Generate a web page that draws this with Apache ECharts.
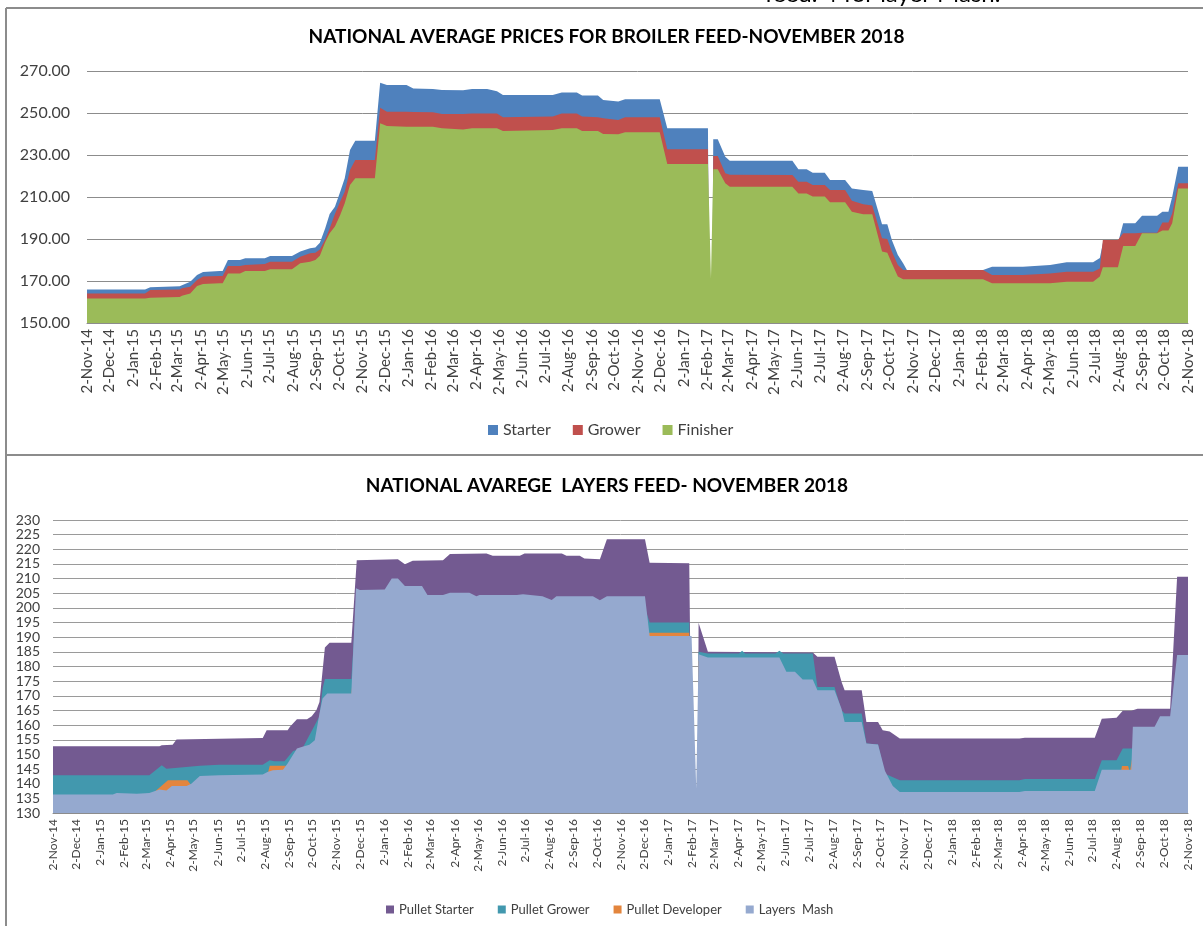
<!DOCTYPE html>
<html><head><meta charset="utf-8">
<script src="https://cdn.jsdelivr.net/npm/echarts@6/dist/echarts.min.js"></script>
<style>html,body{margin:0;padding:0;background:#fff}#c{width:1203px;height:926px}</style>
</head><body><div id="c"></div>
<script>
const xTickLabels = ['2-Nov-14','2-Dec-14','2-Jan-15','2-Feb-15','2-Mar-15','2-Apr-15','2-May-15','2-Jun-15','2-Jul-15','2-Aug-15','2-Sep-15','2-Oct-15',
'2-Nov-15','2-Dec-15','2-Jan-16','2-Feb-16','2-Mar-16','2-Apr-16','2-May-16','2-Jun-16','2-Jul-16','2-Aug-16','2-Sep-16','2-Oct-16',
'2-Nov-16','2-Dec-16','2-Jan-17','2-Feb-17','2-Mar-17','2-Apr-17','2-May-17','2-Jun-17','2-Jul-17','2-Aug-17','2-Sep-17','2-Oct-17',
'2-Nov-17','2-Dec-17','2-Jan-18','2-Feb-18','2-Mar-18','2-Apr-18','2-May-18','2-Jun-18','2-Jul-18','2-Aug-18','2-Sep-18','2-Oct-18','2-Nov-18'];

const broilerDates = ['2014-11-02','2015-01-18','2015-01-25','2015-03-05','2015-03-08','2015-03-19','2015-03-28','2015-04-05','2015-04-27','2015-05-01',
'2015-05-08','2015-05-24','2015-05-31','2015-06-26','2015-07-03','2015-08-01','2015-08-12','2015-08-25','2015-09-01','2015-09-07',
'2015-09-14','2015-09-20','2015-09-27','2015-10-04','2015-10-10','2015-10-17','2015-10-24','2015-11-19','2015-11-26','2015-12-05',
'2015-12-31','2016-01-09','2016-02-04','2016-02-16','2016-03-15','2016-03-27','2016-04-16','2016-04-29','2016-05-07','2016-07-12',
'2016-07-24','2016-08-13','2016-08-20','2016-09-10','2016-09-17','2016-10-07','2016-10-16','2016-12-01','2016-12-11','2017-02-03',
'2017-02-07','2017-02-10','2017-02-16','2017-02-26','2017-03-04','2017-05-26','2017-06-03','2017-06-14','2017-06-22','2017-07-08',
'2017-07-15','2017-08-04','2017-08-13','2017-08-28','2017-09-09','2017-09-22','2017-09-29','2017-10-05','2017-10-13','2017-10-20',
'2017-10-25','2018-02-03','2018-02-15','2018-03-28','2018-05-03','2018-05-25','2018-06-29','2018-07-08','2018-07-12','2018-08-01',
'2018-08-08','2018-08-24','2018-09-02','2018-09-22','2018-09-29','2018-10-07','2018-10-12','2018-10-20','2018-11-02'];

const starter = [166,166,167,167.5,168,169.7,172.9,174.3,174.8,174.8,
180,180,180.8,180.8,181.9,181.9,184,185.6,186,188.2,
195,201.9,205.4,212.5,218.9,232.4,236.8,236.8,264.4,263.3,
263.3,261.7,261.4,261,260.8,261.4,261.4,260.3,258.6,258.6,
259.8,259.8,258.3,258.3,256.2,255.5,256.5,256.5,242.7,242.7,
0,237.5,237.5,229.2,227.3,227.3,223.2,223.2,221.6,221.6,
218.1,218.1,214.1,213.3,212.9,197,197,189.5,182.4,178.4,
175.2,175.2,176.8,176.8,177.6,178.9,178.9,181,188,188,
197.5,197.5,201.1,201.1,203,203,210,224.4,224.4];

const grower = [164.1,164.1,165.7,166,166.5,167.3,170.5,172.1,172.4,172.4,
177.1,177.1,177.6,178.1,179.2,179.2,181.6,183.2,183.5,185,
189.8,195,201.9,207.8,212.5,222.9,227.6,227.6,252.5,250.6,
250.6,250.5,250.3,249.5,249.5,249.8,249.8,249.8,248,248.3,
249.8,249.8,248.3,248,247.5,246.7,248,248,232.7,232.7,
0,229.5,229.5,221.3,220.6,220.5,217.3,217.3,215.7,215.7,
213.3,213.3,208.2,206.5,206,190.3,190,184,177.6,175.2,
175.2,175.2,172.9,172.9,173.6,174.4,174.4,176,189.5,189.5,
192.7,192.7,193,193,197.9,197.9,202.2,216.5,216.5];

const finisher = [161.7,161.7,162,162.4,163,164,167.6,168.6,168.9,168.9,
173.6,173.6,174.8,174.8,175.6,175.6,178.4,179.2,180,182,
188.4,192.7,196,201.4,207,215.7,218.9,218.9,245.1,243.8,
243.5,243.5,243.5,242.7,242.2,242.7,242.7,242.7,241.4,241.9,
242.7,242.7,241.4,241.4,240,239.9,240.8,240.8,225.7,225.7,
171.3,223.2,223.2,216.5,214.9,214.9,211.7,211.7,210.2,210.2,
207.5,207.5,203,201.8,201.8,184,183.5,178.4,172.1,170.8,
170.8,170.8,168.9,168.9,168.9,169.7,169.7,172.1,176.5,176.5,
186.7,186.7,192.7,192.7,194,194,197.5,214.1,214.1];

const pulletStarter = [['2014-11-02',152.8],['2015-03-19',152.8],['2015-03-22',153.1],['2015-04-05',153.3],['2015-04-10',155.1],['2015-07-30',155.6],
['2015-08-04',158.2],['2015-08-31',158.2],['2015-09-03',159.4],['2015-09-12',162],['2015-09-25',162],['2015-10-01',163],['2015-10-07',165.1],
['2015-10-11',167.9],['2015-10-18',186.5],['2015-10-24',188.1],['2015-11-21',188.1],['2015-11-28',216.3],['2016-01-20',216.6],['2016-01-29',214.9],
['2016-02-08',216.1],['2016-03-18',216.3],['2016-03-27',218.4],['2016-05-13',218.6],['2016-05-21',217.8],['2016-06-25',217.8],['2016-07-01',218.6],
['2016-08-18',218.6],['2016-08-24',217.8],['2016-09-10',217.8],['2016-09-16',216.9],['2016-10-06',216.6],['2016-10-15',223.4],['2016-12-03',223.4],
['2016-12-09',215.4],['2017-01-29',215.2],['2017-02-07',0],['2017-02-10',194.9],['2017-02-22',185],['2017-07-07',184.8],['2017-07-13',183.3],
['2017-08-04',183.3],['2017-08-13',174.8],['2017-08-17',171.9],['2017-09-08',171.9],['2017-09-14',161.1],['2017-09-29',161.1],['2017-10-05',158.2],
['2017-10-14',157.8],['2017-10-27',155.4],['2018-03-30',155.4],['2018-04-06',155.7],['2018-07-05',155.7],['2018-07-14',162.2],['2018-08-02',162.5],
['2018-08-10',164.9],['2018-08-21',164.9],['2018-08-29',165.6],['2018-10-10',165.6],['2018-10-19',210.6],['2018-11-02',210.6]];

const pulletGrower = [['2014-11-02',142.9],['2015-03-06',142.9],['2015-03-22',146.3],['2015-03-28',145.1],['2015-04-08',145.4],['2015-05-10',146.1],
['2015-06-04',146.5],['2015-07-30',146.5],['2015-08-08',148],['2015-08-14',147.7],['2015-08-27',147.7],['2015-09-07',151.2],['2015-09-19',152],
['2015-10-11',163],['2015-10-15',172.5],['2015-10-18',175.7],['2015-11-21',175.7],['2015-11-27',200],['2016-12-03',200],['2016-12-09',195],
['2017-01-29',195],['2017-02-07',0],['2017-02-10',185],['2017-02-22',184.4],['2017-04-03',184.4],['2017-04-07',185.4],['2017-04-11',184.4],
['2017-05-20',184.4],['2017-05-25',185.4],['2017-05-30',184.4],['2017-07-07',184.4],['2017-07-13',173],['2017-08-04',173],['2017-08-13',165.1],
['2017-08-17',164],['2017-09-08',164],['2017-09-14',153.7],['2017-09-29',153.4],['2017-10-08',143.4],['2017-10-27',141.2],['2018-03-30',141.2],
['2018-04-06',141.6],['2018-07-05',141.6],['2018-07-14',148],['2018-08-02',148],['2018-08-10',152],['2018-11-02',152]];

const pulletDeveloper = [['2014-11-02',135],['2015-03-06',135.5],['2015-03-10',136.6],['2015-03-30',141.2],['2015-04-24',141.2],['2015-04-29',139.5],
['2015-05-10',140],['2015-07-30',142],['2015-08-05',143],['2015-08-08',146.1],['2015-08-27',146.1],['2015-08-31',146],['2015-09-12',148],
['2015-10-11',150],['2015-11-19',163],['2015-11-27',190],['2016-12-03',190],['2016-12-09',191.5],['2017-01-29',191.5],['2017-02-07',0],
['2017-02-10',182],['2017-05-25',182],['2017-06-03',177],['2017-06-24',174],['2017-07-13',170],['2017-08-13',160],['2017-09-14',150],
['2017-10-08',140],['2017-10-18',136],['2018-07-05',136],['2018-07-14',143],['2018-08-07',143],['2018-08-09',146],['2018-08-17',146],
['2018-08-19',144],['2018-08-23',150],['2018-11-02',150]];

const layersMash = [['2014-11-02',136.3],['2015-01-18',136.3],['2015-01-23',136.8],['2015-02-18',136.6],['2015-03-06',136.8],['2015-03-19',138],
['2015-03-28',137.7],['2015-04-04',139.2],['2015-04-23',139.2],['2015-04-29',140],['2015-05-10',142.6],['2015-06-04',142.9],['2015-07-30',143.1],
['2015-08-05',144],['2015-08-12',144.6],['2015-08-25',144.8],['2015-08-31',146.9],['2015-09-12',152],['2015-09-19',152.6],['2015-09-28',153.3],
['2015-10-05',154.8],['2015-10-11',164],['2015-10-15',169.1],['2015-10-21',170.8],['2015-11-21',170.8],['2015-11-27',206.7],['2015-12-02',206.1],
['2016-01-03',206.3],['2016-01-12',210],['2016-01-20',210],['2016-01-29',207.5],['2016-02-20',207.5],['2016-02-27',204.4],['2016-03-18',204.4],
['2016-03-27',205.2],['2016-04-21',205.2],['2016-04-30',204],['2016-05-04',204.4],['2016-06-21',204.4],['2016-06-29',204.7],['2016-07-24',204],
['2016-08-05',202.7],['2016-08-11',204],['2016-09-27',204],['2016-10-06',202.6],['2016-10-15',204],['2016-12-03',204],['2016-12-09',190.4],
['2017-02-01',190.4],['2017-02-07',138.3],['2017-02-10',184.2],['2017-02-22',183.1],['2017-05-25',183.1],['2017-06-03',178.2],['2017-06-14',178.2],
['2017-06-24',175.6],['2017-07-07',175.6],['2017-07-13',171.9],['2017-08-04',171.9],['2017-08-13',165.6],['2017-08-17',161.1],['2017-09-08',161.1],
['2017-09-14',153.7],['2017-09-29',153.4],['2017-10-08',144.3],['2017-10-18',139.2],['2017-10-27',137.2],['2018-03-30',137.2],['2018-04-06',137.5],
['2018-07-05',137.5],['2018-07-14',144.8],['2018-08-21',144.8],['2018-08-23',159.4],['2018-09-20',159.4],['2018-09-27',163],['2018-10-10',163],
['2018-10-19',183.9],['2018-11-02',183.9]];

const MON = {Jan:0,Feb:1,Mar:2,Apr:3,May:4,Jun:5,Jul:6,Aug:7,Sep:8,Oct:9,Nov:10,Dec:11};
function parseTick(s){const p=s.split('-');return Date.UTC(2000+(+p[2]),MON[p[1]],+p[0]);}
function parseISO(s){const p=s.split('-');return Date.UTC(+p[0],+p[1]-1,+p[2]);}
const tickValues = xTickLabels.map(parseTick);
function fmt(v){ let best=0, bd=Infinity; tickValues.forEach((t,i)=>{const d=Math.abs(t-v); if(d<bd){bd=d;best=i;}}); return xTickLabels[best]; }

const FONT = 'Lato';
const broilerColors = {Starter:'#4f81bd', Grower:'#c0504d', Finisher:'#9bbb59'};
const layerColors = {'Pullet Starter':'#735a91', 'Pullet Grower':'#4298ae', 'Pullet Developer':'#e3853d', 'Layers  Mash':'#95a9cf'};

function areaSeries(name, color, data, idx){
  return {name, type:'line', xAxisIndex:idx, yAxisIndex:idx, data, showSymbol:false, symbol:'none',
    lineStyle:{width:0, opacity:0}, itemStyle:{color}, areaStyle:{color, opacity:1, origin:'start'},
    emphasis:{disabled:true}, animation:false, clip:true};
}
const broilerSeries = [
  areaSeries('Starter', broilerColors.Starter, broilerDates.map((d,i)=>[parseISO(d), starter[i]]), 0),
  areaSeries('Grower', broilerColors.Grower, broilerDates.map((d,i)=>[parseISO(d), grower[i]]), 0),
  areaSeries('Finisher', broilerColors.Finisher, broilerDates.map((d,i)=>[parseISO(d), finisher[i]]), 0)
];
const conv = arr => arr.map(p=>[parseISO(p[0]), p[1]]);
const layerSeries = [
  areaSeries('Pullet Starter', layerColors['Pullet Starter'], conv(pulletStarter), 1),
  areaSeries('Pullet Grower', layerColors['Pullet Grower'], conv(pulletGrower), 1),
  areaSeries('Pullet Developer', layerColors['Pullet Developer'], conv(pulletDeveloper), 1),
  areaSeries('Layers  Mash', layerColors['Layers  Mash'], conv(layersMash), 1)
];

function xAxis(idx, fs){
  return {type:'value', gridIndex:idx, min:tickValues[0], max:tickValues[tickValues.length-1], scale:true,
    axisLine:{show:true, onZero:false, lineStyle:{color:'#8c8c8c', width:1}}, axisTick:{show:false}, splitLine:{show:false},
    axisLabel:{customValues:tickValues, rotate:90, formatter:fmt, fontSize:fs, fontFamily:FONT, color:'#404040', margin:6, hideOverlap:false, showMinLabel:true, showMaxLabel:true}};
}

const chart = echarts.init(document.getElementById('c'), null, {renderer:'canvas'});
chart.setOption({
  animation:false,
  backgroundColor:'#fff',
  grid:[{left:87, right:15, top:71, height:252}, {left:53, right:15, top:520, height:293}],
  xAxis:[xAxis(0,15), xAxis(1,12)],
  yAxis:[
    {type:'value', gridIndex:0, min:150, max:270, interval:20, axisLine:{show:false}, axisTick:{show:false},
     splitLine:{lineStyle:{color:'#8c8c8c', width:1}},
     axisLabel:{formatter:v=>v.toFixed(2), fontSize:16, fontFamily:FONT, color:'#404040', margin:17}},
    {type:'value', gridIndex:1, min:130, max:230, interval:5, axisLine:{show:false}, axisTick:{show:false},
     splitLine:{lineStyle:{color:'#9a9a9a', width:1}},
     axisLabel:{fontSize:14, fontFamily:FONT, color:'#404040', margin:13}}
  ],
  legend:[
    {data:['Starter','Grower','Finisher'], top:417, left:483, icon:'rect', itemWidth:10, itemHeight:10, itemGap:22,
     textStyle:{fontSize:16, fontFamily:FONT, color:'#404040'}, selectedMode:false},
    {data:['Pullet Starter','Pullet Grower','Pullet Developer','Layers  Mash'], top:898, left:381, icon:'rect', itemWidth:8, itemHeight:8, itemGap:24,
     textStyle:{fontSize:13, fontFamily:FONT, color:'#404040'}, selectedMode:false}
  ],
  series: broilerSeries.concat(layerSeries),
  graphic:[
    {type:'line', shape:{x1:6, y1:8, x2:1203, y2:8}, style:{stroke:'#8c8c8c', lineWidth:2}, silent:true},
    {type:'line', shape:{x1:6, y1:8, x2:6, y2:926}, style:{stroke:'#8c8c8c', lineWidth:2}, silent:true},
    {type:'line', shape:{x1:6, y1:455, x2:1203, y2:455}, style:{stroke:'#8c8c8c', lineWidth:2}, silent:true},
    {type:'text', x:765, y:6, style:{text:'feed. 4 for layer Mash.', font:'24px '+FONT, fill:'#000', textAlign:'left', textVerticalAlign:'bottom'}, silent:true},
    {type:'text', x:606.5, y:36.5, style:{text:'NATIONAL AVERAGE PRICES FOR BROILER FEED-NOVEMBER 2018', font:'bold 19px '+FONT, fill:'#000', textAlign:'center', textVerticalAlign:'middle'}, silent:true},
    {type:'text', x:607, y:485.5, style:{text:'NATIONAL AVAREGE  LAYERS FEED- NOVEMBER 2018', font:'bold 19px '+FONT, fill:'#000', textAlign:'center', textVerticalAlign:'middle'}, silent:true}
  ]
});
</script>
</body></html>
